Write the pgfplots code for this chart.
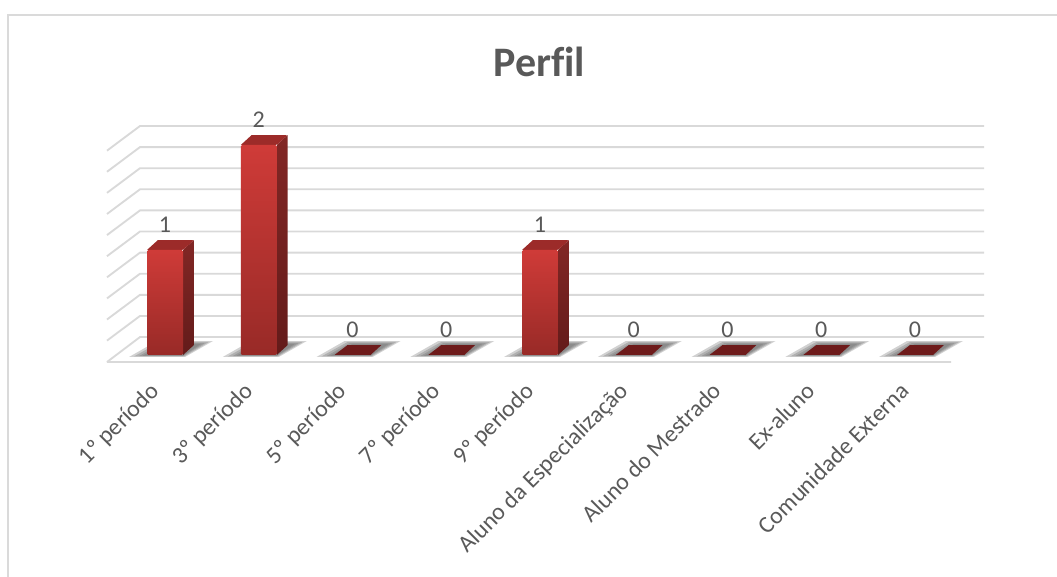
\documentclass[border=0pt]{standalone}
\usepackage{fontspec}
\setmainfont{Carlito}[Ligatures=NoCommon]
\usepackage{pgfplots}
\usepackage{pgfplotstable}
\pgfplotsset{compat=1.18}

\definecolor{txt}{HTML}{595959}
\definecolor{gridc}{HTML}{D9D9D9}
\definecolor{framec}{HTML}{DADADA}
\definecolor{fronttop}{HTML}{CF3B38}
\definecolor{frontbot}{HTML}{982A27}
\definecolor{sidetop}{HTML}{822725}
\definecolor{sidebot}{HTML}{631B1A}
\definecolor{topface}{HTML}{9C2B29}
\definecolor{zeroface}{HTML}{6E1B1B}

\pgfplotstableread{
idx value
0 1
1 2
2 0
3 0
4 1
5 0
6 0
7 0
8 0
}\perfil

% floor shadow, relative to the bar position, biggest layer first
\pgfplotstableread{
xa ya xb yb xc yc xd yd
-0.384 -0.019 -0.331 -0.014 -0.277 -0.010 -0.235 -0.005
0.213 -0.019 0.203 -0.014 0.192 -0.010 0.192 -0.005
0.512 0.133 0.469 0.124 0.427 0.114 0.384 0.105
-0.085 0.133 -0.053 0.124 -0.032 0.114 0.000 0.105
}\shadowtab

\pgfplotstableread{
x y
-0.192 0
0.192 0
0.309 0.095
-0.053 0.095
}\zerotab

\newcommand{\floorshadow}[1]{%
  \addplot[draw=none,fill=black!60,fill opacity=0.3] table[x expr=\thisrow{xa}+#1,y=ya] {\shadowtab};
  \addplot[draw=none,fill=black!60,fill opacity=0.3] table[x expr=\thisrow{xb}+#1,y=yb] {\shadowtab};
  \addplot[draw=none,fill=black!60,fill opacity=0.3] table[x expr=\thisrow{xc}+#1,y=yc] {\shadowtab};
  \addplot[draw=none,fill=black!60,fill opacity=0.3] table[x expr=\thisrow{xd}+#1,y=yd] {\shadowtab};
}
\newcommand{\zerobar}[1]{%
  \addplot[draw=none,fill=zeroface] table[x expr=\thisrow{x}+#1,y=y] {\zerotab};
}
\newcommand{\frontbar}[1]{%
  \addplot[ybar,bar width=27pt,draw=none,top color=fronttop,bottom color=frontbot,rounded corners=1pt,
    restrict x to domain=#1:#1] table[x=idx,y=value] {\perfil};
}

\begin{document}
\begin{tikzpicture}[x=1pt,y=1pt]
\path[use as bounding box] (-80.25pt,-161.25pt) rectangle (712.5pt,271.5pt);
\begin{axis}[
    at={(0pt,0pt)}, anchor=south west,
    scale only axis,
    width=657.75pt, height=177pt,
    xmin=-0.6187, xmax=8.736,
    ymin=-0.0667, ymax=2.181,
    clip=false,
    axis line style={draw=none},
    ytick=\empty,
    xtick={0,1,2,3,4,5,6,7,8},
    xticklabels={1º período,3º período,5º período,7º período,9º período,Aluno da Especialização,Aluno do Mestrado,Ex-aluno,Comunidade Externa},
    xtick style={draw=none},
    x tick label style={font=\fontsize{17.8}{21}\selectfont,color=txt,rotate=45,anchor=north east,inner sep=0pt,xshift=-18.5pt,yshift=-1.2pt},
    title={Perfil},
    title style={font=\fontsize{31.5}{35}\selectfont\bfseries,color=txt,xshift=-4.5pt,yshift=42pt,anchor=center},
    /pgf/number format/assume math mode=true,
]
% back wall, side wall and floor lines
\addplot[gridc,line width=1.4pt,unbounded coords=jump] coordinates {
  (-0.6187,1.946) (-0.2667,2.181) (8.736,2.181) (nan,nan)
  (-0.6187,1.745) (-0.2667,1.980) (8.736,1.980) (nan,nan)
  (-0.6187,1.544) (-0.2667,1.779) (8.736,1.779) (nan,nan)
  (-0.6187,1.343) (-0.2667,1.578) (8.736,1.578) (nan,nan)
  (-0.6187,1.142) (-0.2667,1.377) (8.736,1.377) (nan,nan)
  (-0.6187,0.941) (-0.2667,1.176) (8.736,1.176) (nan,nan)
  (-0.6187,0.740) (-0.2667,0.975) (8.736,0.975) (nan,nan)
  (-0.6187,0.539) (-0.2667,0.774) (8.736,0.774) (nan,nan)
  (-0.6187,0.338) (-0.2667,0.573) (8.736,0.573) (nan,nan)
  (-0.6187,0.137) (-0.2667,0.372) (8.736,0.372) (nan,nan)
  (-0.6187,-0.0667) (-0.2667,0.171) (8.736,0.171) (nan,nan)
  (-0.6187,-0.0667) (8.384,-0.0667)
};
% shadows on the floor
\floorshadow{0}\floorshadow{1}\floorshadow{2}\floorshadow{3}\floorshadow{4}
\floorshadow{5}\floorshadow{6}\floorshadow{7}\floorshadow{8}
% flat bars
\zerobar{2}\zerobar{3}\zerobar{5}\zerobar{6}\zerobar{7}\zerobar{8}
% side faces
\addplot[draw=none,top color=sidetop,bottom color=sidebot] coordinates {(0.192,0) (0.309,0.095) (0.309,1.095) (0.192,1)};
\addplot[draw=none,top color=sidetop,bottom color=sidebot] coordinates {(1.192,0) (1.309,0.095) (1.309,2.095) (1.192,2)};
\addplot[draw=none,top color=sidetop,bottom color=sidebot] coordinates {(4.192,0) (4.309,0.095) (4.309,1.095) (4.192,1)};
% top faces
\addplot[draw=none,fill=topface,rounded corners=1pt] coordinates {(-0.192,1) (0.192,1) (0.309,1.095) (-0.075,1.095)};
\addplot[draw=none,fill=topface,rounded corners=1pt] coordinates {(0.808,2) (1.192,2) (1.309,2.095) (0.925,2.095)};
\addplot[draw=none,fill=topface,rounded corners=1pt] coordinates {(3.808,1) (4.192,1) (4.309,1.095) (3.925,1.095)};
% front faces
\frontbar{0}\frontbar{1}\frontbar{4}
% value labels
\addplot[draw=none,mark=none,nodes near coords,
    every node near coord/.style={anchor=south,inner sep=0pt,yshift=13pt,color=txt,font=\fontsize{18}{21}\selectfont}]
    table[x=idx,y=value] {\perfil};
\end{axis}
% chart frame
\draw[framec,line width=1.3pt] (-74pt,-161.25pt) -- (-74pt,260.5pt) -- (712.5pt,260.5pt);
\end{tikzpicture}
\end{document}
